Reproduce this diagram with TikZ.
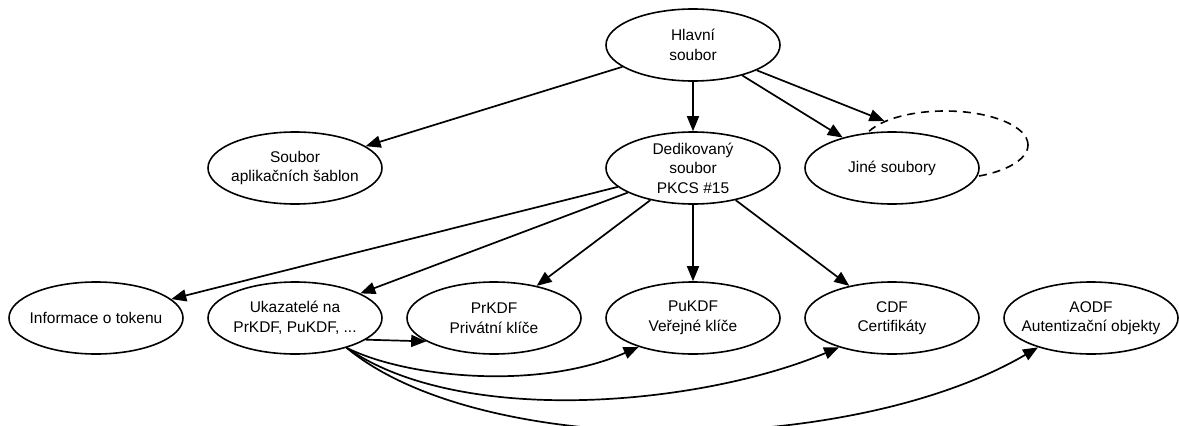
\documentclass[tikz,border=0pt]{standalone}
\usepackage{fontspec}
\setmainfont{Liberation Sans}
\usetikzlibrary{arrows.meta,shapes.geometric}
\begin{document}
\begin{tikzpicture}[x=1pt,y=-1pt,
  oval/.style={ellipse,draw,line width=1.6pt,minimum width=174pt,minimum height=72pt,inner sep=0pt,fill=white},
  txt/.style={align=center,font=\fontsize{15.5}{19.5}\selectfont,inner sep=0pt},
  link/.style={line width=1.7pt,-{Triangle[length=15pt,width=12pt]}},
]
\useasboundingbox[fill=white] (0,0) rectangle (1179,426);

% stack of further files behind "Jiné soubory"
\node[oval,dash pattern=on 8pt off 6pt,minimum width=166pt,minimum height=68pt] (others) at (945,145) {};

% top level
\node[oval,label={[txt]center:{Hlavní\\soubor}}] (main) at (693,45) {};

% second row
\node[oval,label={[txt]center:{Soubor\\aplikačních šablon}}] (tmpl) at (295,168) {};
\node[oval,label={[txt]center:{Dedikovaný\\soubor\\PKCS \#15}}] (ded) at (693,168) {};
\node[oval,label={[txt]center:{Jiné soubory}}] (jine) at (892,168) {};

% third row
\node[oval,label={[txt]center:{Informace o tokenu}}] (info) at (96,318) {};
\node[oval,label={[txt]center:{Ukazatelé na\\PrKDF, PuKDF, ...}}] (ptr) at (295,318) {};
\node[oval,label={[txt]center:{PrKDF\\Privátní klíče}}] (prkdf) at (494,318) {};
\node[oval,label={[txt]center:{PuKDF\\Veřejné klíče}}] (pukdf) at (693,318) {};
\node[oval,label={[txt]center:{CDF\\Certifikáty}}] (cdf) at (892,318) {};
\node[oval,label={[txt]center:{AODF\\Autentizační objekty}}] (aodf) at (1091,318) {};

% main file
\draw[link] (main) -- (tmpl);
\draw[link] (main) -- (ded);
\draw[link] (main) -- (jine);
\draw[link] (main) -- (others);

% PKCS #15 directory
\draw[link] (ded) -- (info);
\draw[link] (ded) -- (ptr);
\draw[link] (ded) -- (prkdf);
\draw[link] (ded) -- (pukdf);
\draw[link] (ded) -- (cdf);

% pointers to the object directories
\draw[link] (ptr.-17) -- (prkdf.199);
\draw[link] (ptr.-30) .. controls +(60,30) and +(-100,44) .. (pukdf.208);
\draw[link] (ptr.-30) .. controls +(115,80) and +(-138,58) .. (cdf.209);
\draw[link] (ptr.-30) .. controls +(135,112) and +(-188,110) .. (aodf.209);
\end{tikzpicture}
\end{document}
